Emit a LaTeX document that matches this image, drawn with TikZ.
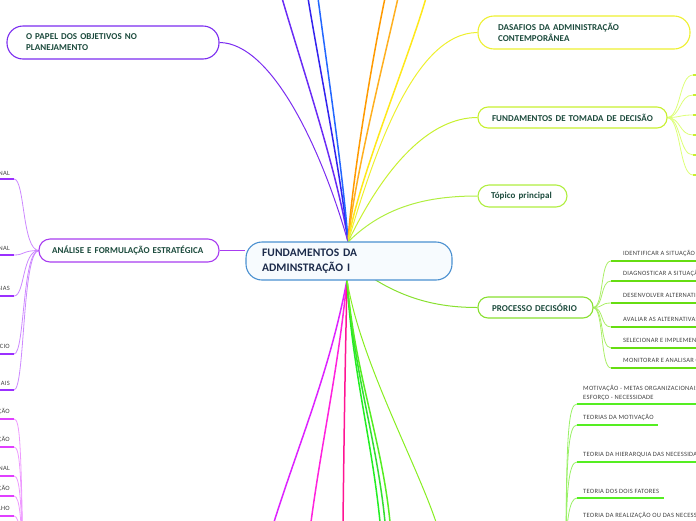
\documentclass[tikz,border=0pt]{standalone}
\usepackage{fontspec}
\setmainfont{Carlito}
\newfontfamily\nodefont{Carlito}[LetterSpace=1]
\newfontfamily\leaffont{Carlito}[LetterSpace=4]
\usetikzlibrary{backgrounds}
\definecolor{nodetext}{HTML}{1B4A3C}
\definecolor{centertext}{HTML}{1C2B4B}
\definecolor{centerborder}{HTML}{4A90D0}
\definecolor{centerfill}{HTML}{F7FBFE}
\definecolor{leafgray}{HTML}{404040}
\definecolor{cPapel}{HTML}{7B2CF0}
\definecolor{cA}{HTML}{6A2CF5}
\definecolor{cB}{HTML}{3322EE}
\definecolor{cC}{HTML}{2266FF}
\definecolor{cD}{HTML}{FF9A00}
\definecolor{cE}{HTML}{FFB020}
\definecolor{cF}{HTML}{FFE81A}
\definecolor{cDas}{HTML}{EEF030}
\definecolor{cTom}{HTML}{C8F030}
\definecolor{cTomLeaf}{HTML}{DDFF77}
\definecolor{cTop}{HTML}{B0EE40}
\definecolor{cProc}{HTML}{88E030}
\definecolor{cProcLeaf}{HTML}{AAEE66}
\definecolor{cProcLine}{HTML}{66DD11}
\definecolor{cAna}{HTML}{A83CF0}
\definecolor{cAnaLeaf}{HTML}{CC88FF}
\definecolor{cAnaLine}{HTML}{9B30FF}
\definecolor{cMag}{HTML}{E040FF}
\definecolor{cMagLeaf}{HTML}{EE99FF}
\definecolor{cM1}{HTML}{DD22FF}
\definecolor{cM2}{HTML}{FF22DD}
\definecolor{cM3}{HTML}{FF1493}
\definecolor{cG1}{HTML}{22EE22}
\definecolor{cG2}{HTML}{33DD33}
\definecolor{cG3}{HTML}{55EE22}
\definecolor{cG4}{HTML}{88EE22}
\definecolor{cMotLeaf}{HTML}{99F066}
\definecolor{cMotLine}{HTML}{55EE22}
\begin{document}
\begin{tikzpicture}[x=1pt,y=-1pt,
  box/.style={draw, fill=white, line width=1.1pt, align=left, inner ysep=0pt,
    font=\nodefont\bfseries\fontsize{9}{11}\selectfont, text=nodetext},
  branch/.style={line width=1.5pt},
  conn/.style={line width=1pt},
  leafconn/.style={line width=0.8pt},
  uline/.style={line width=1.8pt},
  leaf/.style={font=\leaffont\fontsize{6.5}{9}\selectfont, text=leafgray, inner sep=0pt, align=left}]
\useasboundingbox (0,0) rectangle (696,520);
\clip (0,0) rectangle (696,520);

% anchor coordinates on the central topic
\coordinate (ctop) at (348,242);
\coordinate (cbot) at (347,280);
\coordinate (cmid) at (350,262);

% off-picture ends
\coordinate (tA) at (282,-2);
\coordinate (tB) at (308,-2);
\coordinate (tC) at (318,-2);
\coordinate (tD) at (385,-2);
\coordinate (tE) at (398,-2);
\coordinate (tF) at (426,-2);
\coordinate (bM1) at (274,522);
\coordinate (bM2) at (311,522);
\coordinate (bM3) at (343,522);
\coordinate (bG1) at (380,522);
\coordinate (bG2) at (385,522);
\coordinate (bG3) at (390,522);
\coordinate (bG4) at (436,522);
\coordinate (magpar) at (23,560);
\coordinate (motpar) at (566,560);
\coordinate (tomfan) at (667,117.5);
\coordinate (procfan) at (593,307.5);
\coordinate (anafan) at (39,250.5);

% nodes
\node[box, draw=centerborder, fill=centerfill, rounded corners=16pt, minimum height=38pt,
  text width=174pt, inner xsep=16pt, text=centertext,
  font=\nodefont\bfseries\fontsize{11.5}{14.5}\selectfont] (center) at (349,261)
  {FUNDAMENTOS DA\\ADMINSTRAÇÃO I};
\node[box, draw=cPapel, rounded corners=16pt, minimum height=33pt, text width=174pt,
  inner xsep=19pt] (papel) at (113,42.5) {O PAPEL DOS OBJETIVOS NO\\PLANEJAMENTO};
\node[box, draw=cAna, rounded corners=11pt, minimum height=23pt, text width=154pt,
  inner xsep=13pt] (analise) at (129,250.5) {\mbox{ANÁLISE E FORMULAÇÃO ESTRATÉGICA}};
\node[box, draw=cDas, rounded corners=16pt, minimum height=33pt, text width=172pt,
  inner xsep=20pt] (dasafios) at (584,32.5) {DASAFIOS DA ADMINISTRAÇÃO\\CONTEMPORÂNEA};
\node[box, draw=cTom, rounded corners=10pt, minimum height=21pt, text width=161pt,
  inner xsep=14pt] (tomada) at (572.5,117.5) {\mbox{FUNDAMENTOS DE TOMADA DE DECISÃO}};
\node[box, draw=cTop, rounded corners=11pt, minimum height=22pt, text width=63pt,
  inner xsep=13pt] (topico) at (522.5,196) {\mbox{Tópico principal}};
\node[box, draw=cProc, rounded corners=10pt, minimum height=21pt, text width=87pt,
  inner xsep=14pt] (processo) at (535.5,307.5) {\mbox{PROCESSO DECISÓRIO}};

% --- leaves: Processo decisório ---
\node[leaf, anchor=base west] (p1) at (623,255) {IDENTIFICAR A SITUAÇÃO};
\node[leaf, anchor=base west] (p2) at (623,275) {DIAGNOSTICAR A SITUAÇÃO};
\node[leaf, anchor=base west] (p3) at (623,297) {DESENVOLVER ALTERNATIVAS};
\node[leaf, anchor=base west] (p4) at (623,321) {AVALIAR AS ALTERNATIVAS};
\node[leaf, anchor=base west] (p5) at (623,342) {SELECIONAR E IMPLEMENTAR};
\node[leaf, anchor=base west] (p6) at (623,362) {MONITORAR E ANALISAR OS RESULTADOS};
% --- leaves: Análise e formulação estratégica ---
\node[leaf, anchor=base east] (a1) at (10,175) {ANÁLISE DO AMBIENTE EXTERNO ORGANIZACIONAL};
\node[leaf, anchor=base east] (a2) at (10,250) {ANÁLISE DO AMBIENTE INTERNO ORGANIZACIONAL};
\node[leaf, anchor=base east] (a3) at (10,290) {FORMULAÇÃO DE ESTRATÉGIAS};
\node[leaf, anchor=base east] (a4) at (10,348) {ESTRATÉGIA DE NEGÓCIO};
\node[leaf, anchor=base east] (a5) at (10,385) {ESTRATÉGIAS FUNCIONAIS};
% --- leaves: lower left (magenta) ---
\node[leaf, anchor=base east] (m1) at (10,413) {DEPARTAMENTALIZAÇÃO};
\node[leaf, anchor=base east] (m2) at (10,441) {CENTRALIZAÇÃO E DESCENTRALIZAÇÃO};
\node[leaf, anchor=base east] (m3) at (10,470) {ESTRUTURA ORGANIZACIONAL};
\node[leaf, anchor=base east] (m4) at (10,490) {COORDENAÇÃO};
\node[leaf, anchor=base east] (m5) at (10,510) {DESENHO DO TRABALHO};
% --- leaves: lower right (motivation) ---
\node[leaf, anchor=base west] (v1) at (583,399) {MOTIVAÇÃO - METAS ORGANIZACIONAIS\\ESFORÇO - NECESSIDADE};
\node[leaf, anchor=base west] (v2) at (583,419) {TEORIAS DA MOTIVAÇÃO};
\node[leaf, anchor=base west] (v3) at (583,456) {TEORIA DA HIERARQUIA DAS NECESSIDADES};
\node[leaf, anchor=base west] (v4) at (583,493) {TEORIA DOS DOIS FATORES};
\node[leaf, anchor=base west] (v5) at (583,517) {TEORIA DA REALIZAÇÃO OU DAS NECESSIDADES};

\begin{pgfonlayer}{background}
  % top branches leaving the picture
  \draw[branch, cA] (ctop) .. controls (340,180) and (300,60) .. (tA);
  \draw[branch, cB] (ctop) .. controls (342,180) and (318,60) .. (tB);
  \draw[branch, cC] (ctop) .. controls (344,180) and (326,60) .. (tC);
  \draw[branch, cD] (ctop) .. controls (352,180) and (372,60) .. (tD);
  \draw[branch, cE] (ctop) .. controls (354,180) and (384,60) .. (tE);
  \draw[branch, cF] (ctop) .. controls (358,180) and (408,60) .. (tF);
  % curves to side topics
  \draw[conn, cPapel] (papel.east) .. controls (272,43) and (322,150) .. (ctop);
  \draw[conn, cDas] (ctop) .. controls (375,150) and (415,33) .. (dasafios.west);
  \draw[conn, cTom] (ctop) .. controls (385,165) and (430,117.5) .. (tomada.west);
  \draw[conn, cTop] (ctop) .. controls (385,205) and (430,196) .. (topico.west);
  \draw[conn, cProc] (cmid) .. controls (395,298) and (435,307.5) .. (processo.west);
  \draw[conn, cAna] (analise.east) -- (center.west |- analise.east);
  % bottom branches leaving the picture
  \draw[branch, cM1] (cbot) .. controls (330,370) and (300,440) .. (bM1);
  \draw[branch, cM2] (cbot) .. controls (338,370) and (322,440) .. (bM2);
  \draw[branch, cM3] (cbot) .. controls (345,370) and (344,440) .. (bM3);
  \draw[branch, cG1] (cbot) .. controls (352,370) and (372,440) .. (bG1);
  \draw[branch, cG2] (cbot) .. controls (353,370) and (377,440) .. (bG2);
  \draw[branch, cG3] (cbot) .. controls (354,370) and (382,440) .. (bG3);
  \draw[conn, cG4] (cbot) .. controls (360,360) and (415,460) .. (bG4);
  % fan: fundamentos de tomada de decisao (leaves outside the picture)
  \foreach \i/\y in {1/75,2/95,3/115,4/135,5/155,6/175}{
    \coordinate (tl\i) at (693,\y);
    \coordinate (tr\i) at (700,\y);
    \draw[leafconn, cTomLeaf] (tomfan) .. controls (681,117.5) and (679,\y) .. (tl\i);
    \draw[uline, cTom] (tl\i) -- (tr\i);
  }
  % fan: processo decisorio
  \foreach \i/\y in {1/261,2/281,3/303,4/327,5/348,6/368}{
    \coordinate (pl\i) at (611,\y);
    \coordinate (pr\i) at (700,\y);
    \draw[leafconn, cProcLeaf] (procfan) .. controls (604,307.5) and (600,\y) .. (pl\i);
    \draw[uline, cProcLine] (pl\i) -- (pr\i);
  }
  % fan: analise e formulacao estrategica
  \foreach \i/\y in {1/179,2/255,3/296,4/354,5/390}{
    \coordinate (al\i) at (-5,\y);
    \coordinate (ar\i) at (14,\y);
    \draw[leafconn, cAnaLeaf] (anafan) .. controls (22,250.5) and (25,\y) .. (ar\i);
    \draw[uline, cAnaLine] (al\i) -- (ar\i);
  }
  % fan: lower left (parent outside the picture)
  \foreach \i/\y in {1/419,2/447,3/476,4/496,5/516}{
    \coordinate (ml\i) at (-5,\y);
    \coordinate (mr\i) at (14,\y);
    \draw[leafconn, cMagLeaf] (mr\i) .. controls (20,\y) and (21,\y+25) .. (magpar);
    \draw[uline, cMag] (ml\i) -- (mr\i);
  }
  % fan: lower right (parent outside the picture)
  \foreach \i/\y/\e in {1/404/700,2/425/658,3/462/700,4/498/664,5/535/700}{
    \coordinate (vl\i) at (577,\y);
    \coordinate (vr\i) at (\e,\y);
    \draw[leafconn, cMotLeaf] (motpar) .. controls (566,\y+25) and (569,\y) .. (vl\i);
    \draw[uline, cMotLine] (vl\i) -- (vr\i);
  }
\end{pgfonlayer}
\end{tikzpicture}
\end{document}
